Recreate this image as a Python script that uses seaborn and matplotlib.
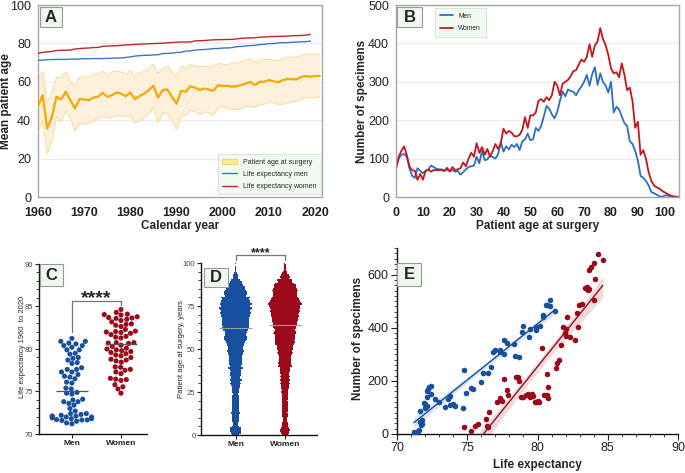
import numpy as np
import pandas as pd
import matplotlib
matplotlib.use('Agg')
import matplotlib.pyplot as plt
import seaborn as sns
from matplotlib.patches import Patch, Rectangle
from matplotlib.lines import Line2D
from matplotlib.ticker import MultipleLocator

sns.set_theme(style='ticks')
plt.rcParams['font.family'] = ['Liberation Sans', 'DejaVu Sans']

# ---------------- data ----------------
# A: patient age at surgery per calendar year (mean and spread band)
age_years = list(range(1960, 2022))
mean_age = [47.3, 53.0, 35.7, 41.7, 52.2, 50.8, 54.8, 50.4, 46.1, 51.0,
            50.8, 50.4, 51.8, 52.2, 54.3, 52.2, 53.0, 54.4, 53.9, 52.5,
            54.4, 51.0, 52.5, 53.9, 55.7, 57.9, 51.8, 55.7, 56.0, 52.2,
            48.7, 55.3, 54.8, 57.7, 57.0, 55.7, 56.5, 56.0, 55.3, 58.3,
            57.7, 57.9, 57.4, 57.7, 58.3, 59.1, 60.0, 58.3, 60.0, 60.0,
            60.9, 60.3, 59.7, 60.9, 61.4, 61.4, 61.2, 62.6, 63.0, 62.6,
            63.0, 63.1]
band_hi = [61.2, 65.6, 49.0, 54.3, 62.3, 62.6, 65.2, 60.0, 57.7, 62.6,
           63.0, 62.3, 64.3, 64.0, 65.7, 63.5, 65.2, 65.6, 65.2, 64.0,
           65.7, 63.0, 64.7, 65.7, 67.0, 69.2, 64.3, 67.0, 68.3, 65.2,
           62.3, 68.2, 67.0, 69.2, 68.2, 67.8, 68.2, 67.8, 68.2, 69.6,
           69.2, 68.7, 69.9, 69.6, 70.4, 71.3, 71.7, 69.9, 71.3, 71.7,
           71.7, 71.3, 71.0, 72.2, 72.7, 73.0, 72.7, 73.9, 74.4, 74.4,
           74.4, 74.4]
band_lo = [33.9, 40.0, 22.3, 29.6, 42.1, 39.1, 44.9, 40.9, 34.3, 38.6,
           37.9, 38.3, 39.7, 40.9, 42.1, 41.4, 41.4, 42.6, 42.1, 41.7,
           42.6, 38.6, 40.0, 41.4, 43.5, 46.6, 38.6, 43.8, 43.5, 39.7,
           35.1, 42.6, 42.6, 45.2, 44.3, 43.1, 44.3, 43.8, 42.6, 46.6,
           47.0, 46.6, 45.6, 45.6, 46.1, 47.0, 47.3, 46.6, 48.3, 48.3,
           49.6, 49.0, 48.3, 48.3, 49.0, 49.6, 50.1, 50.8, 51.7, 51.8,
           51.8, 52.2]

# life expectancy and specimens per year, 1960-2019
le_years = list(range(1960, 2020))
le_men = [71.2, 71.3, 71.5, 71.6, 71.65, 71.65, 71.7, 71.8, 71.8, 71.9,
          72.0, 72.0, 72.1, 72.1, 72.1, 72.2, 72.3, 72.4, 72.4, 72.7,
          73.0, 73.4, 73.6, 73.8, 73.8, 74.0, 74.1, 74.7, 74.8, 74.9,
          75.3, 75.4, 76.0, 76.1, 76.5, 76.7, 76.8, 77.0, 77.3, 77.3,
          77.6, 77.6, 77.8, 78.3, 78.4, 78.7, 78.9, 79.0, 79.4, 79.5,
          79.9, 79.9, 80.2, 80.4, 80.4, 80.6, 80.7, 80.9, 80.9, 81.25]
n_men = [6, 0, 10, 16, 45, 85, 32, 39, 52, 116,
         114, 98, 139, 160, 104, 169, 176, 179, 151, 131,
         119, 100, 130, 144, 109, 114, 104, 96, 239, 156,
         172, 169, 195, 229, 229, 254, 310, 316, 316, 307,
         301, 354, 344, 337, 295, 289, 385, 406, 366, 395,
         391, 401, 406, 441, 447, 485, 485, 504, 481, 462]
le_women = [74.8, 75.3, 75.55, 75.8, 76.3, 76.4, 76.45, 76.55, 77.1, 77.3,
            77.5, 77.6, 77.85, 77.9, 78.45, 78.6, 78.7, 78.8, 79.0, 79.2,
            79.3, 79.45, 79.6, 79.7, 79.8, 79.9, 80.0, 80.1, 80.3, 80.45,
            80.65, 80.7, 80.75, 80.75, 81.3, 81.4, 81.5, 81.7, 81.85, 81.95,
            82.0, 82.05, 82.1, 82.3, 82.65, 82.8, 82.9, 82.95, 83.2, 83.35,
            83.5, 83.6, 83.65, 83.7, 83.8, 84.0, 84.05, 84.1, 84.3, 84.65]
n_women = [26, 10, 31, 39, 56, 29, 26, 82, 119, 135,
           125, 206, 166, 145, 216, 216, 200, 141, 141, 145,
           150, 141, 150, 144, 122, 119, 125, 119, 322, 147,
           145, 225, 176, 137, 250, 269, 279, 335, 401, 381,
           395, 370, 441, 364, 354, 454, 401, 485, 489, 548,
           554, 541, 544, 616, 629, 645, 506, 585, 676, 656]

# B: number of specimens by patient age (0-105)
ages = list(range(0, 106))
men_counts = [75, 100, 110, 112, 105, 75, 55, 50, 75, 68,
              62, 68, 70, 82, 78, 74, 72, 70, 68, 72,
              68, 70, 66, 68, 58, 65, 72, 78, 80, 82,
              105, 88, 120, 96, 98, 108, 104, 100, 112, 143,
              118, 132, 124, 136, 130, 138, 122, 145, 150, 165,
              148, 150, 180, 172, 185, 210, 237, 230, 215, 205,
              222, 250, 275, 262, 280, 276, 274, 265, 278, 288,
              300, 318, 290, 320, 338, 292, 322, 300, 290, 272,
              300, 220, 235, 228, 210, 192, 185, 145, 138, 120,
              95, 55, 50, 42, 30, 13, 10, 6, 2, 0,
              4, 4, 2, 0, 0, 0]
women_counts = [72, 105, 120, 132, 110, 80, 70, 68, 45, 60,
                45, 68, 72, 66, 70, 70, 70, 72, 68, 76,
                66, 78, 70, 72, 75, 90, 80, 100, 115, 105,
                140, 115, 130, 110, 125, 105, 120, 138, 125, 140,
                178, 165, 172, 168, 158, 158, 162, 175, 208, 180,
                213, 212, 220, 250, 255, 248, 260, 252, 265, 300,
                290, 265, 295, 300, 305, 315, 328, 330, 345, 358,
                352, 365, 398, 365, 395, 405, 440, 412, 395, 370,
                335, 322, 325, 312, 348, 318, 278, 285, 250, 180,
                196, 110, 122, 100, 65, 42, 30, 25, 22, 16,
                12, 8, 4, 2, 1, 0]

groups = ['Men', 'Women']

# ---------------- colours ----------------
orange = '#f5a800'
band_fill = '#fdf1dc'
band_edge = '#fbd99a'
a_blue = '#3a76c4'
a_red = '#c4242a'
b_blue = '#2c6fc1'
b_red = '#c4161c'
dark_blue = '#1750a0'
dark_red = '#9b0a1a'
frame_gray = '#a8a8a8'
letter_bg = '#eef8ee'

fig = plt.figure(figsize=(6.85, 4.73), dpi=100)
W, H = 685, 473


def px_axes(x0, y0, x1, y1):
    return fig.add_axes([x0 / W, 1 - y1 / H, (x1 - x0) / W, (y1 - y0) / H])


def letter_box(x0, y0, x1, y1, txt):
    fig.add_artist(Rectangle((x0 / W, 1 - y1 / H), (x1 - x0) / W, (y1 - y0) / H,
                             transform=fig.transFigure, facecolor=letter_bg,
                             edgecolor='#9a9a9a', lw=0.8, zorder=10))
    fig.text((x0 + x1) / 2 / W, 1 - (y0 + y1) / 2 / H, txt, ha='center', va='center',
             fontsize=12, fontweight='bold', zorder=11)


def framed(ax):
    for s in ax.spines.values():
        s.set_visible(True)
        s.set_color(frame_gray)
        s.set_linewidth(1.0)
    ax.grid(axis='y', color='#ececec', linewidth=0.8)
    ax.set_axisbelow(True)
    ax.tick_params(length=0, labelsize=9, colors='#222222')
    ax.tick_params(axis='x', pad=7)
    ax.tick_params(axis='y', pad=5)
    for lab in ax.get_xticklabels():
        lab.set_fontweight('bold')


axA = px_axes(38, 5, 322, 197)
axB = px_axes(396, 5, 679, 197)
axC = px_axes(39, 264, 147, 434)
axD = px_axes(201, 263, 317, 435)
axE = px_axes(397, 248, 678, 434)

# ---------------- A ----------------
dfA = pd.DataFrame({'year': age_years, 'mean': mean_age, 'lo': band_lo, 'hi': band_hi})
dfLE = pd.DataFrame({'year': le_years, 'men': le_men, 'women': le_women})
axA.fill_between(dfA['year'], dfA['lo'], dfA['hi'], color=band_fill, lw=0, zorder=1)
axA.plot(dfA['year'], dfA['hi'], color=band_edge, lw=0.7, zorder=2)
axA.plot(dfA['year'], dfA['lo'], color=band_edge, lw=0.7, zorder=2)
sns.lineplot(data=dfA, x='year', y='mean', color=orange, lw=1.6, ax=axA, zorder=3)
sns.lineplot(data=dfLE, x='year', y='men', color=a_blue, lw=1.0, ax=axA, zorder=3)
sns.lineplot(data=dfLE, x='year', y='women', color=a_red, lw=1.0, ax=axA, zorder=3)
axA.set_xlim(1960, 2021.5)
axA.set_ylim(0, 100)
axA.set_xticks(range(1960, 2021, 10))
axA.set_yticks(range(0, 101, 20))
axA.set_xlabel('Calendar year', fontsize=8.5, fontweight='bold')
axA.set_ylabel('Mean patient age', fontsize=8.5, fontweight='bold')
axA.xaxis.set_label_coords(0.5, -0.12)
axA.yaxis.set_label_coords(-0.09, 0.5)
framed(axA)
hA = [Patch(facecolor='#fde9a0', edgecolor='#f8d36a', lw=0.8),
      Line2D([0], [0], color=a_blue, lw=1.0),
      Line2D([0], [0], color=a_red, lw=1.0)]
legA = axA.legend(hA, ['Patient age at surgery', 'Life expectancy men', 'Life expectancy women'],
                  loc='lower right', bbox_to_anchor=(0.995, 0.015), borderaxespad=0,
                  fontsize=5.0, frameon=True, fancybox=False, framealpha=1,
                  facecolor='#f2fbf1', edgecolor='#cfe3cf', handlelength=2.2,
                  handleheight=0.7, labelspacing=0.75, borderpad=0.6)
legA.get_frame().set_linewidth(0.6)

# ---------------- B ----------------
dfB = pd.DataFrame({'age': ages, 'Men': men_counts, 'Women': women_counts})
dfB = dfB.melt(id_vars='age', var_name='sex', value_name='count')
sns.lineplot(data=dfB, x='age', y='count', hue='sex', palette={'Men': b_blue, 'Women': b_red},
             lw=1.3, ax=axB)
axB.set_xlim(0, 105.3)
axB.set_ylim(0, 500)
axB.set_xticks(range(0, 101, 10))
axB.set_yticks(range(0, 501, 100))
axB.set_xlabel('Patient age at surgery', fontsize=8.5, fontweight='bold')
axB.set_ylabel('Number of specimens', fontsize=8.5, fontweight='bold')
axB.xaxis.set_label_coords(0.5, -0.12)
axB.yaxis.set_label_coords(-0.1, 0.5)
framed(axB)
legB = axB.legend(loc='upper left', bbox_to_anchor=(0.138, 0.985), borderaxespad=0,
                  fontsize=4.8, frameon=True, fancybox=False, framealpha=1,
                  facecolor='#f2fbf1', edgecolor='#cfe3cf', handlelength=2.0,
                  labelspacing=0.8, borderpad=0.7, title=None)
legB.get_frame().set_linewidth(0.6)


def graphpad(ax):
    sns.despine(ax=ax)
    for s in ['left', 'bottom']:
        ax.spines[s].set_color('#111111')
        ax.spines[s].set_linewidth(1.0)


# ---------------- C ----------------
dfC = pd.DataFrame({'sex': ['Men'] * len(le_men) + ['Women'] * len(le_women),
                    'le': le_men + le_women})
sns.swarmplot(data=dfC, x='sex', y='le', hue='sex', order=groups,
              palette={'Men': dark_blue, 'Women': dark_red}, size=3.7,
              legend=False, ax=axC, zorder=3)
for i, vals in enumerate([le_men, le_women]):
    axC.hlines(np.median(vals), i - 0.33, i + 0.33, color='#555555', lw=0.9, zorder=4)
axC.plot([0, 0, 1, 1], [82.0, 85.6, 85.6, 85.2], color='#777777', lw=0.9)
axC.text(0.5, 85.9, '****', ha='center', va='center', fontsize=14, fontweight='bold')
axC.set_xlim(-0.67, 1.53)
axC.set_ylim(70, 90)
axC.set_yticks(range(70, 91, 5))
axC.yaxis.set_minor_locator(MultipleLocator(1))
axC.set_xlabel('')
axC.set_ylabel('Life expectancy 1960  to 2020', fontsize=5.5)
axC.yaxis.set_label_coords(-0.12, 0.51)
graphpad(axC)
axC.tick_params(axis='y', which='major', length=3, width=0.8, labelsize=5.5,
                labelcolor='#444444', pad=1)
axC.tick_params(axis='y', which='minor', length=2, width=0.6)
axC.tick_params(axis='x', length=3, width=0.8, labelsize=6, pad=1)
for lab in axC.get_xticklabels():
    lab.set_fontweight('bold')

# ---------------- D ----------------
dfD = pd.DataFrame({'age': ages, 'Men': men_counts, 'Women': women_counts})
for i, (g, col) in enumerate([('Men', dark_blue), ('Women', dark_red)]):
    widths = dfD[g] / dfD[g].max() * 0.68
    axD.barh(dfD['age'], widths, left=i - widths / 2, height=1.0, color=col, lw=0, zorder=2)
    med = np.median(np.repeat(dfD['age'].values, dfD[g].values))
    axD.hlines(med, i - 0.33, i + 0.33, color='#9a9a9a', lw=0.8, zorder=4)
axD.plot([0, 0, 1, 1], [101.5, 104.6, 104.6, 101.5], color='#777777', lw=0.9, clip_on=False)
axD.text(0.5, 106.0, '****', ha='center', va='center', fontsize=9, fontweight='bold',
         clip_on=False)
axD.set_xlim(-0.70, 1.65)
axD.set_ylim(0, 100)
axD.set_xticks([0, 1])
axD.set_xticklabels(groups)
axD.set_yticks(range(0, 101, 25))
axD.yaxis.set_minor_locator(MultipleLocator(5))
axD.set_ylabel('Patient age at surgery, years', fontsize=5.5)
axD.yaxis.set_label_coords(-0.134, 0.5)
graphpad(axD)
axD.tick_params(axis='y', which='major', length=3, width=0.8, labelsize=5.5,
                labelcolor='#444444', pad=1)
axD.tick_params(axis='y', which='minor', length=2, width=0.6)
axD.tick_params(axis='x', length=3, width=0.8, labelsize=6, pad=1)
for lab in axD.get_xticklabels():
    lab.set_fontweight('bold')

# ---------------- E ----------------
for xs, ys, col in [(le_men, n_men, dark_blue), (le_women, n_women, dark_red)]:
    sns.regplot(x=np.array(xs), y=np.array(ys), ax=axE, color=col, ci=95,
                scatter_kws={'s': 16, 'linewidths': 0, 'alpha': 1, 'zorder': 3},
                line_kws={'lw': 1.0, 'zorder': 2})
axE.set_xlim(70, 90)
axE.set_ylim(0, 700)
axE.set_xticks(range(70, 91, 5))
axE.set_yticks(range(0, 601, 200))
axE.xaxis.set_minor_locator(MultipleLocator(1))
axE.yaxis.set_minor_locator(MultipleLocator(20))
axE.set_xlabel('Life expectancy', fontsize=8.5, fontweight='bold')
axE.set_ylabel('Number of specimens', fontsize=8.5, fontweight='bold')
axE.xaxis.set_label_coords(0.5, -0.135)
axE.yaxis.set_label_coords(-0.118, 0.516)
graphpad(axE)
axE.tick_params(which='major', length=4, width=0.8, labelsize=9, labelcolor='#222222', pad=2)
axE.tick_params(which='minor', length=2.5, width=0.6)

# panel letters
letter_box(40, 7, 62, 27, 'A')
letter_box(397, 7, 422, 27, 'B')
letter_box(40, 264, 63, 286, 'C')
letter_box(204, 268, 228, 287, 'D')
letter_box(397, 263, 421, 286, 'E')

fig.savefig('out.png', dpi=100)
